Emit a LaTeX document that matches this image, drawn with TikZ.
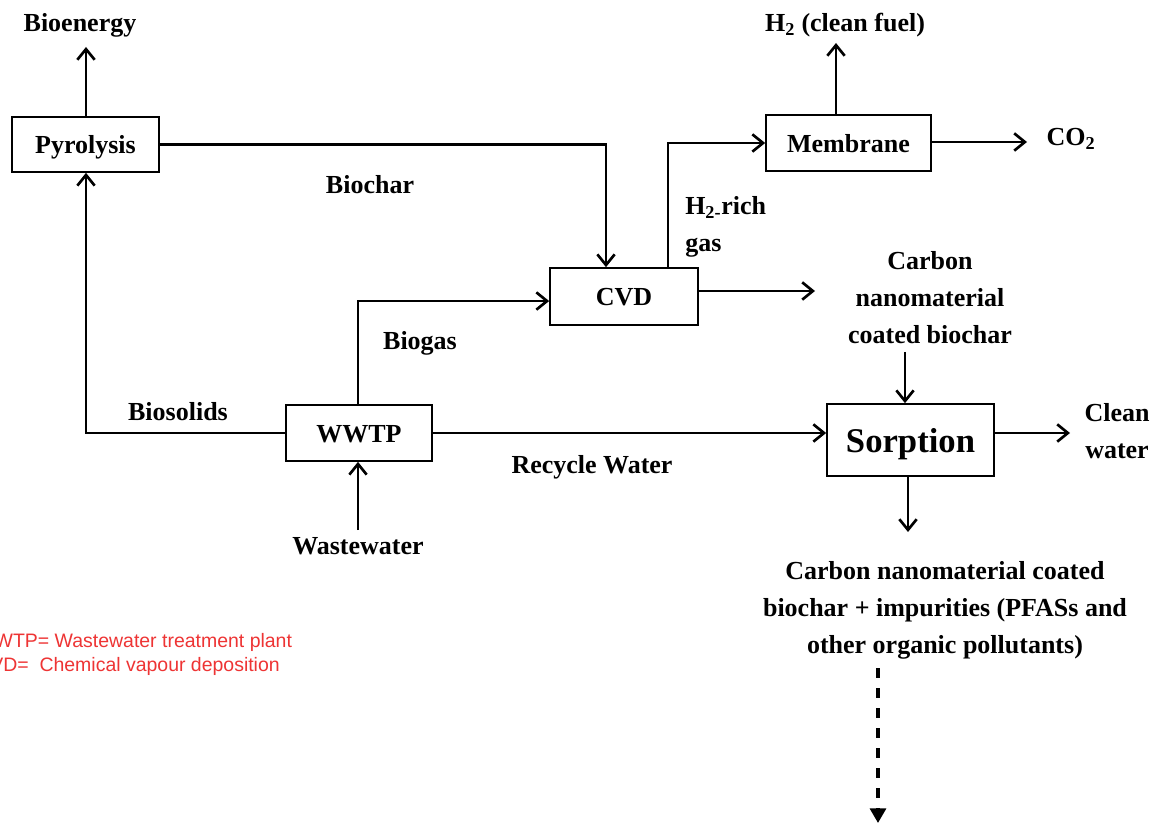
\documentclass[tikz,border=0pt]{standalone}
\usepackage{fontspec}
\setmainfont{Liberation Serif}
\newfontfamily\arialfont{Liberation Sans}
\usetikzlibrary{arrows.meta}
\definecolor{notered}{RGB}{238,52,52}
\tikzset{
  box/.style={draw, line width=1.3pt, font=\fontsize{19.5}{24}\selectfont\bfseries, inner sep=0pt, text height=14pt, text depth=0pt},
  lbl/.style={font=\fontsize{19.5}{27.75}\selectfont\bfseries, align=center, inner sep=0pt},
  arr/.style={line width=2pt, -{Straight Barb[length=8pt,width=13pt,line width=2pt]}},
  darr/.style={line width=2.4pt, dash pattern=on 7.5pt off 7.5pt, -{Triangle[length=11pt,width=12pt]}},
  note/.style={font=\arialfont\fontsize{14.6}{18}\selectfont, text=notered, align=left, inner sep=0pt, anchor=west}
}
\begin{document}
\begin{tikzpicture}[x=0.75pt,y=-0.75pt]
\path[use as bounding box, clip] (0,0) rectangle (1153,823);
\fill[white] (0,0) rectangle (1153,823);

% boxes
\node[box, minimum width=110.25pt, minimum height=41.25pt] (pyr) at (85.5,144.5) {Pyrolysis};
\node[box, minimum width=111pt, minimum height=42.75pt] (cvd) at (624,296.5) {CVD};
\node[box, minimum width=123.75pt, minimum height=42pt] (mem) at (848.5,143) {Membrane};
\node[box, minimum width=109.5pt, minimum height=42pt] (wwtp) at (359,433) {WWTP};
\node[box, minimum width=125.25pt, minimum height=54pt, font=\fontsize{26}{30}\selectfont\bfseries, text height=18.5pt, text depth=0pt] (sorp) at (910.5,440) {Sorption};

% labels
\node[lbl] (bioenergy) at (80,25) {Bioenergy};
\node[lbl] (h2) at (845,25) {H\textsubscript{2} (clean fuel)};
\node[lbl] (co2) at (1071,139) {CO\textsubscript{2}};
\node[lbl] (biochar) at (370,185) {Biochar};
\node[lbl, align=left, anchor=north west] (h2rich) at (685,196) {H\textsubscript{2-}rich\\gas};
\node[lbl] (cnm) at (930,298) {Carbon\\nanomaterial\\coated biochar};
\node[lbl] (biogas) at (420,343) {Biogas};
\node[lbl] (biosolids) at (178,412) {Biosolids};
\node[lbl] (recycle) at (592,467) {Recycle Water};
\node[lbl] (clean) at (1117,431) {Clean\\water};
\node[lbl] (wastewater) at (358,546) {Wastewater};
\node[lbl] (product) at (945,610) {Carbon nanomaterial coated\\biochar + impurities (PFASs and\\other organic pollutants)};

\node[note] (notes) at (-24,654) {WWTP= Wastewater treatment plant\\CVD=\ \ Chemical vapour deposition};

% free ends
\coordinate (bioE) at (86,47);
\coordinate (h2E) at (836,43);
\coordinate (co2E) at (1027,142);
\coordinate (cnmE) at (815,291);
\coordinate (cnmIn) at (905,352);
\coordinate (cleanE) at (1070,433);
\coordinate (sorpOut) at (908,532);
\coordinate (wwIn) at (358,530);
\coordinate (dashS) at (878,668);
\coordinate (dashE) at (878,823);

% connectors
\draw[arr] (pyr.north -| bioE) -- (bioE);
\draw[arr] (pyr.east) -| ([xshift=-13.5pt]cvd.north);
\draw[arr] ([xshift=33pt]cvd.north) |- (mem.west);
\draw[arr] (mem.north -| h2E) -- (h2E);
\draw[arr] (mem.east |- co2E) -- (co2E);
\draw[arr] (cvd.east |- cnmE) -- (cnmE);
\draw[arr] (wwtp.north -| wwIn) |- ([yshift=-3.4pt]cvd.west);
\draw[arr] (wwtp.west) -| (pyr.south -| bioE);
\draw[arr] (wwtp.east) -- (wwtp.east -| sorp.west);
\draw[arr] (sorp.east |- cleanE) -- (cleanE);
\draw[arr] (cnmIn) -- (cnmIn |- sorp.north);
\draw[arr] (sorp.south -| sorpOut) -- (sorpOut);
\draw[arr] (wwIn) -- (wwIn |- wwtp.south);
\draw[darr] (dashS) -- (dashE);
\end{tikzpicture}
\end{document}
